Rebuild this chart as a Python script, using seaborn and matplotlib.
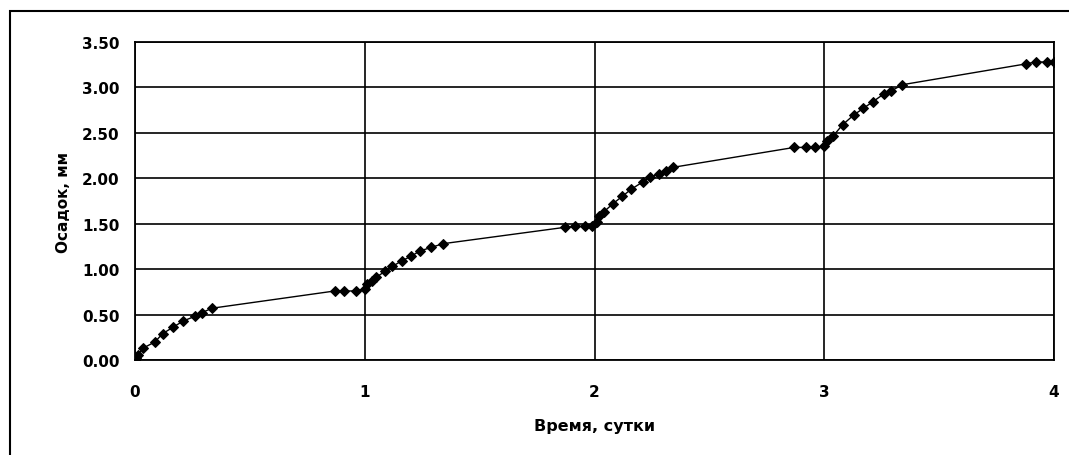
import matplotlib.pyplot as plt
import pandas as pd
import seaborn as sns
from matplotlib.patches import Rectangle


# time, days
days = [
    0.0, 0.005, 0.013, 0.035, 0.087, 0.12, 0.165, 0.21, 0.26, 0.29, 0.335,
    0.87, 0.91, 0.96, 1.0, 1.01, 1.03, 1.05, 1.09, 1.12, 1.16, 1.2, 1.24, 1.29, 1.34,
    1.87, 1.915, 1.96, 1.99, 2.01, 2.02, 2.04, 2.08, 2.12, 2.16, 2.21, 2.24, 2.28, 2.31, 2.34,
    2.87, 2.92, 2.96, 3.0, 3.01, 3.04, 3.08, 3.13, 3.17, 3.21, 3.26, 3.29, 3.34,
    3.88, 3.92, 3.97, 4.0,
]
# settlement, mm
settlement = [
    0.0, 0.02, 0.06, 0.13, 0.2, 0.29, 0.36, 0.43, 0.48, 0.52, 0.57,
    0.76, 0.76, 0.76, 0.78, 0.84, 0.87, 0.91, 0.98, 1.03, 1.09, 1.14, 1.2, 1.24, 1.28,
    1.46, 1.47, 1.47, 1.48, 1.52, 1.58, 1.63, 1.72, 1.8, 1.88, 1.96, 2.01, 2.05, 2.08, 2.12,
    2.34, 2.34, 2.34, 2.35, 2.41, 2.47, 2.59, 2.7, 2.77, 2.84, 2.93, 2.96, 3.03,
    3.26, 3.28, 3.28, 3.28,
]

y_ticks = [0.0, 0.5, 1.0, 1.5, 2.0, 2.5, 3.0, 3.5]
x_ticks = [0, 1, 2, 3, 4]

df = pd.DataFrame({"days": days, "settlement": settlement})

sns.set_style("white")
plt.rcParams["font.family"] = ["DejaVu Sans"]
plt.rcParams["text.color"] = "black"
plt.rcParams["axes.labelcolor"] = "black"
plt.rcParams["xtick.color"] = "black"
plt.rcParams["ytick.color"] = "black"

fig = plt.figure(figsize=(10.69, 4.56), dpi=100)
ax = fig.add_axes([0.1263, 0.2083, 0.8597, 0.6974])

sns.lineplot(
    data=df, x="days", y="settlement", ax=ax,
    color="black", linewidth=1.0, sort=False, estimator=None,
    marker="D", markersize=5.5, markeredgecolor="black", markerfacecolor="black",
)

ax.set_xlim(0, 4)
ax.set_ylim(0, 3.5)
ax.set_xticks(x_ticks)
ax.set_yticks(y_ticks)
ax.set_xticklabels([str(t) for t in x_ticks], fontsize=11, fontweight="bold")
ax.set_yticklabels(["{:.2f}".format(t) for t in y_ticks], fontsize=11, fontweight="bold")
ax.tick_params(axis="both", direction="out", length=5, width=1.2, color="black",
               labelcolor="black")
ax.tick_params(axis="x", pad=12)
ax.tick_params(axis="y", pad=6)
ax.grid(True, color="black", linewidth=1.2)
for s in ax.spines.values():
    s.set_color("black")
    s.set_linewidth(1.3)

ax.set_xlabel("Время, сутки", fontsize=11.5, fontweight="bold", labelpad=14, color="black")
ax.set_ylabel("Осадок, мм", fontsize=11, fontweight="bold", labelpad=8, color="black")

# outer chart frame (only left and top edges visible)
fig.patches.append(Rectangle((10 / 1069, -0.2), 1.2, 0.2 + 1 - 12 / 456,
                             transform=fig.transFigure, fill=False,
                             edgecolor="black", linewidth=1.5))

fig.savefig("out.png", dpi=100)
